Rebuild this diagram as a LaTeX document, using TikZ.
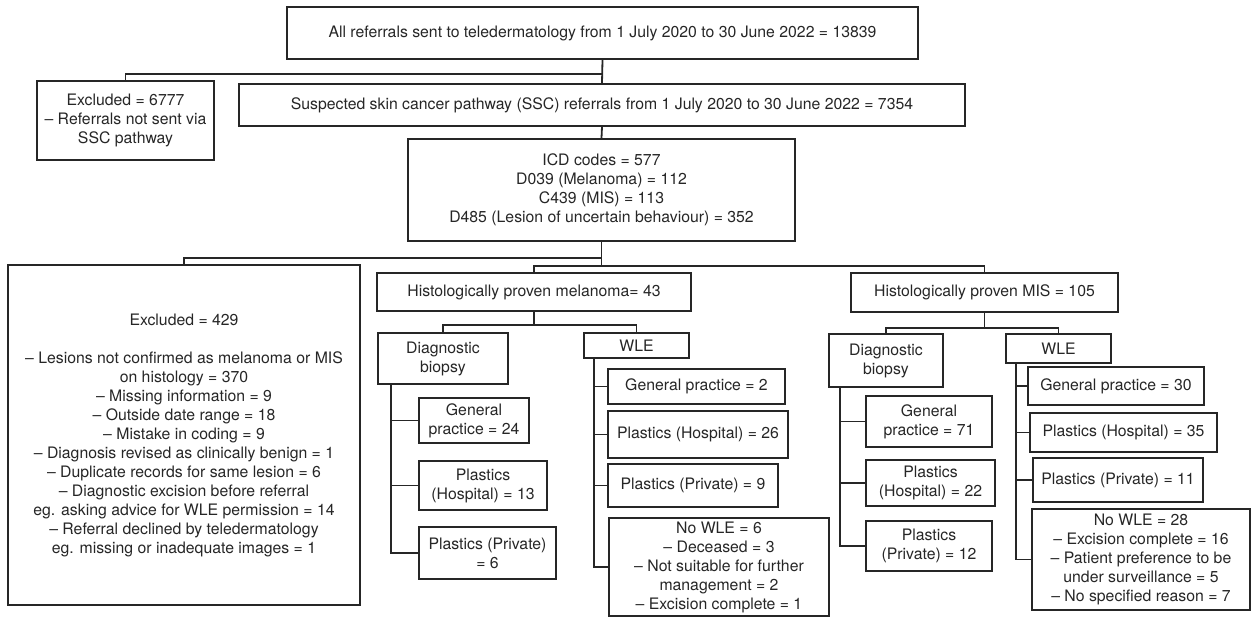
\documentclass[tikz,border=0pt]{standalone}
\usepackage{fontspec}
\setmainfont{TeX Gyre Heros}

\begin{document}
\begin{tikzpicture}[x=0.5pt,y=-0.5pt,line width=0.9pt,color=black!85,
  box/.style={draw,align=center,inner sep=0pt,font=\fontsize{7.9}{9.5}\selectfont}]
\useasboundingbox (0,0) rectangle (1255,618);
% top levels
\node[box,minimum width=315.5pt,minimum height=26pt] (all) at (602.5,33) {All referrals sent to teledermatology from 1 July 2020 to 30 June 2022 = 13839};
\node[box,minimum width=88.5pt,minimum height=39.5pt] (excl1) at (125.5,120.5) {Excluded = 6777\\– Referrals not sent via\\SSC pathway};
\node[box,minimum width=363pt,minimum height=21pt] (ssc) at (602,105) {Suspected skin cancer pathway (SSC) referrals from 1 July 2020 to 30 June 2022 = 7354};
\node[box,minimum width=193.5pt,minimum height=51pt] (icd) at (601.5,190) {ICD codes = 577\\D039 (Melanoma) = 112\\C439 (MIS) = 113\\D485 (Lesion of uncertain behaviour) = 352};
\node[box,minimum width=176pt,minimum height=170pt] (excl2) at (184,435) {Excluded = 429\\[9.5pt]
  – Lesions not confirmed as melanoma or MIS\\on histology = 370\\– Missing information = 9\\– Outside date range = 18\\
  – Mistake in coding = 9\\– Diagnosis revised as clinically benign = 1\\– Duplicate records for same lesion = 6\\
  – Diagnostic excision before referral\\eg. asking advice for WLE permission = 14\\
  – Referral declined by teledermatology\\eg. missing or inadequate images = 1};
\node[box,minimum width=157pt,minimum height=19pt] (mel) at (534,292) {Histologically proven melanoma= 43};
\node[box,minimum width=133.5pt,minimum height=19.5pt] (mis) at (984.5,292.5) {Histologically proven MIS = 105};
% melanoma branch
\node[box,minimum width=65pt,minimum height=25.5pt] (meldb) at (443,358.5) {Diagnostic\\biopsy};
\node[box,minimum width=52.5pt,minimum height=12.5pt] (melwle) at (636.5,345.5) {WLE};
\node[box,minimum width=55pt,minimum height=22.5pt] (melgp) at (474,420.5) {General\\practice = 24};
\node[box,minimum width=64pt,minimum height=24.5pt] (melph) at (483,485.5) {Plastics\\(Hospital) = 13};
\node[box,minimum width=68.5pt,minimum height=26pt] (melpp) at (487.5,553) {Plastics (Private)\\= 6};
\node[box,minimum width=88.5pt,minimum height=17.5pt] (melwgp) at (696.5,386.5) {General practice = 2};
\node[box,minimum width=90pt,minimum height=23.5pt] (melwph) at (698,434.5) {Plastics (Hospital) = 26};
\node[box,minimum width=85pt,minimum height=21.5pt] (melwpp) at (693,485.5) {Plastics (Private) = 9};
\node[box,minimum width=110pt,minimum height=49pt] (melwno) at (719,567) {No WLE = 6\\– Deceased = 3\\– Not suitable for further\\management = 2\\– Excision complete = 1};
% MIS branch
\node[box,minimum width=57pt,minimum height=26.5pt] (misdb) at (886,360.5) {Diagnostic\\biopsy};
\node[box,minimum width=52.5pt,minimum height=14.5pt] (miswle) at (1058.5,348.5) {WLE};
\node[box,minimum width=63pt,minimum height=25.5pt] (misgp) at (929,421.5) {General\\practice = 71};
\node[box,minimum width=64.5pt,minimum height=23pt] (misph) at (930.5,483) {Plastics\\(Hospital) = 22};
\node[box,minimum width=63pt,minimum height=25pt] (mispp) at (929,546) {Plastics\\(Private) = 12};
\node[box,minimum width=88pt,minimum height=19pt] (miswgp) at (1116,386) {General practice = 30};
\node[box,minimum width=93.5pt,minimum height=19.5pt] (miswph) at (1123.5,432.5) {Plastics (Hospital) = 35};
\node[box,minimum width=85pt,minimum height=22pt] (miswpp) at (1118,480) {Plastics (Private) = 11};
\node[box,minimum width=109pt,minimum height=50.5pt] (miswno) at (1141,559.5) {No WLE = 28\\– Excision complete = 16\\– Patient preference to be\\under surveillance = 5\\– No specified reason = 7};

% connectors
\draw (all.south) -- (ssc.north);
\draw (all.south) -- ++(0,14) -| (excl1.north);
\draw (ssc.south) -- (icd.north);
\draw (icd.south) -- ++(0,16) -| (excl2.north);
\draw (icd.south) -- ++(0,24) -| (mel.north);
\draw (icd.south) -- ++(0,24) -| (mis.north);
\draw (mel.south) -- ++(0,13) -| (meldb.north);
\draw (mel.south) -- ++(0,13) -| (melwle.north);
\draw (mis.south) -- ++(0,15) -| (misdb.north);
\draw (mis.south) -- ++(0,15) -| (miswle.north);
\foreach \c in {melgp,melph,melpp}
  \draw ([xshift=7pt]meldb.south west) |- (\c.west);
\foreach \c in {melwgp,melwph,melwpp,melwno}
  \draw ([xshift=5.5pt]melwle.south west) |- (\c.west);
\foreach \c in {misgp,misph,mispp}
  \draw ([xshift=6pt]misdb.south west) |- (\c.west);
\foreach \c in {miswgp,miswph,miswpp,miswno}
  \draw ([xshift=5.5pt]miswle.south west) |- (\c.west);
\end{tikzpicture}
\end{document}
